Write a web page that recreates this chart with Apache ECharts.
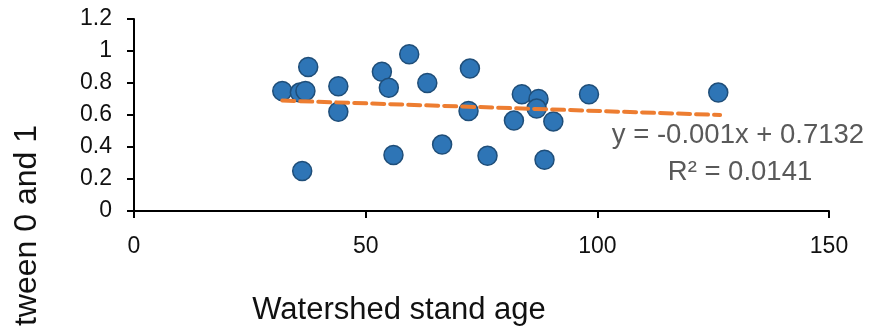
<!DOCTYPE html>
<html>
<head>
<meta charset="utf-8">
<script src="https://cdn.jsdelivr.net/npm/echarts@6/dist/echarts.min.js"></script>
<style>
html,body{margin:0;padding:0;background:#fff;}
#chart{width:872px;height:326px;}
</style>
</head>
<body>
<div id="chart"></div>
<script>
// Data
var standAge = [32.0, 35.8, 37.0, 37.6, 44.1, 44.1, 36.3, 53.5, 55.0, 59.4, 63.3, 56.0, 66.5, 72.5, 72.2, 76.3, 83.7, 87.3, 86.9, 82.0, 90.5, 88.6, 98.2, 126.1];
var values   = [0.75, 0.74, 0.75, 0.90, 0.78, 0.62, 0.25, 0.87, 0.77, 0.98, 0.80, 0.35, 0.415, 0.89, 0.625, 0.345, 0.73, 0.70, 0.64, 0.565, 0.56, 0.32, 0.73, 0.74];
var trendX = [32.0, 126.5];
var trendY = [0.690, 0.600];
var xTicks = [0, 50, 100, 150];
var yTicks = [0, 0.2, 0.4, 0.6, 0.8, 1, 1.2];
var equationText = 'y = -0.001x + 0.7132';
var r2Text = 'R² = 0.0141';
var xTitle = 'Watershed stand age';
var yTitle = 'Relative value between 0 and 1';

var FONT = '"Liberation Sans", Arial, sans-serif';
var points = standAge.map(function (x, i) { return [x, values[i]]; });
var trend = trendX.map(function (x, i) { return [x, trendY[i]]; });

var chart = echarts.init(document.getElementById('chart'), null, {renderer: 'canvas'});
chart.setOption({
  animation: false,
  backgroundColor: '#ffffff',
  grid: {left: 134, right: 43, top: 19, bottom: 115, containLabel: false},
  xAxis: {
    type: 'value', min: xTicks[0], max: xTicks[xTicks.length - 1], interval: 50,
    splitLine: {show: false},
    axisLine: {show: true, onZero: false, lineStyle: {color: '#000', width: 2}},
    axisTick: {show: true, inside: false, length: 7, lineStyle: {color: '#000', width: 2}},
    axisLabel: {color: '#111', fontFamily: FONT, fontSize: 23, margin: 24}
  },
  yAxis: {
    type: 'value', min: yTicks[0], max: yTicks[yTicks.length - 1], interval: 0.2,
    splitLine: {show: false},
    axisLine: {show: true, onZero: false, lineStyle: {color: '#000', width: 2}},
    axisTick: {show: true, inside: false, length: 7, lineStyle: {color: '#000', width: 2}},
    axisLabel: {color: '#111', fontFamily: FONT, fontSize: 23, margin: 22,
      formatter: function (v) { return String(parseFloat(v.toFixed(1))); }}
  },
  graphic: [
    {type: 'text', x: 738, y: 135, style: {text: equationText, fill: '#595959', font: '27.5px ' + FONT, textAlign: 'center', textVerticalAlign: 'middle'}},
    {type: 'text', x: 740, y: 172, style: {text: r2Text, fill: '#595959', font: '27.5px ' + FONT, textAlign: 'center', textVerticalAlign: 'middle'}},
    {type: 'text', x: 399, y: 310, style: {text: xTitle, fill: '#111', font: '31px ' + FONT, textAlign: 'center', textVerticalAlign: 'middle'}},
    {type: 'text', x: 43, y: 125, rotation: Math.PI / 2, style: {text: yTitle, fill: '#111', font: '32px ' + FONT, textAlign: 'right', textVerticalAlign: 'bottom'}}
  ],
  series: [
    {
      type: 'scatter', data: points, symbol: 'circle', symbolSize: 19,
      itemStyle: {color: '#2E75B6', borderColor: '#1F4E79', borderWidth: 1.5, opacity: 1}, z: 3
    },
    {
      type: 'line', data: trend, symbol: 'none', silent: true,
      lineStyle: {color: '#ED7D31', width: 4, type: [12, 6], cap: 'round'}, z: 4
    }
  ]
});
</script>
</body>
</html>
